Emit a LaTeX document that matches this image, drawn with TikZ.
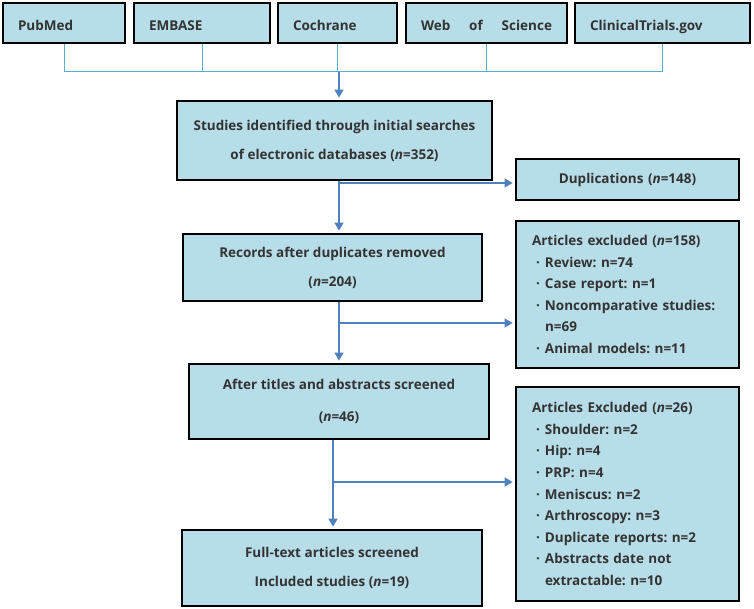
\documentclass[tikz,border=0pt]{standalone}
\usepackage{fontspec}
\setmainfont{Open Sans}
\usetikzlibrary{arrows.meta}
\definecolor{boxblue}{HTML}{B7DDE8}
\definecolor{linkblue}{HTML}{5AAFCB}
\definecolor{flowblue}{HTML}{4F81BD}
\definecolor{txtgray}{HTML}{333333}
\newcommand{\itm}{\makebox[13pt][l]{\hspace{4pt}\textperiodcentered}}
\newcommand{\cnt}{\hspace*{13pt}}
\frenchspacing
\begin{document}
\begin{tikzpicture}[x=1pt,y=-1pt,
    every node/.style={text=txtgray,font=\bfseries\fontsize{13.5}{29}\selectfont},
    db/.style={draw,line width=2.8pt,fill=boxblue,minimum height=40pt,inner xsep=15pt,text height=16pt,text depth=0pt,align=left},
    stage/.style={draw,line width=2.8pt,fill=boxblue,align=center},
    note/.style={draw,line width=2.8pt,fill=boxblue,text width=191pt,inner xsep=16pt,font=\bfseries\fontsize{13.5}{21.6}\selectfont},
    link/.style={linkblue,line width=1pt},
    flow/.style={flowblue,line width=1.6pt,shorten >=2pt,-{Triangle[width=9pt,length=8pt]}}]
    \useasboundingbox (0,0) rectangle (754,609);
    \node[db,text width=92pt] (pubmed) at (64,23) {PubMed};
    \node[db,text width=106pt] (embase) at (202,23) {EMBASE};
    \node[db,text width=89pt] (cochrane) at (337.5,23) {Cochrane};
    \node[db,text width=131pt] (wos) at (486.5,23) {Web\hfill of\hfill Science};
    \node[db,text width=145pt] (trials) at (662.5,23) {ClinicalTrials.gov};
    \node[stage,minimum width=315pt,minimum height=79pt] (ident) at (334.5,140.5)
      {Studies identified through initial searches\\of electronic databases (\textit{n}=352)};
    \node[stage,minimum width=299pt,minimum height=67pt] (dedup) at (332.5,267.5)
      {Records after duplicates removed\\(\textit{n}=204)};
    \node[stage,minimum width=300pt,minimum height=75pt,font=\bfseries\fontsize{13.5}{32}\selectfont] (screen) at (339,401.5)
      {After titles and abstracts screened\\(\textit{n}=46)};
    \node[stage,minimum width=300pt,minimum height=76pt] (included) at (332,568)
      {Full-text articles screened\\Included studies (\textit{n}=19)};
    \node[note,align=center,minimum height=41pt] (dupl) at (627.5,179.5)
      {Duplications (\textit{n}=148)};
    \node[note,align=left,minimum height=147pt] (excl1) at (627.5,294.5)
      {Articles excluded (\textit{n}=158)\\
       \itm Review: n=74\\
       \itm Case report: n=1\\
       \itm Noncomparative studies:\\
       \cnt n=69\\
       \itm Animal models: n=11};
    \node[note,align=left,minimum height=214pt] (excl2) at (627.5,494)
      {Articles Excluded (\textit{n}=26)\\
       \itm Shoulder: n=2\\
       \itm Hip: n=4\\
       \itm PRP: n=4\\
       \itm Meniscus: n=2\\
       \itm Arthroscopy: n=3\\
       \itm Duplicate reports: n=2\\
       \itm Abstracts date not\\
       \cnt extractable: n=10};
    \coordinate (join) at (339,72);
    \coordinate (b1) at (339,183);
    \coordinate (b2) at (339,323);
    \coordinate (b3) at (333,482);
    \foreach \db in {pubmed,embase,cochrane,wos,trials}
      \draw[link] (\db.south) |- (join);
    \draw[flow] (join) -- (join |- ident.north);
    \draw[flow] (b1 |- ident.south) -- (b1 |- dedup.north);
    \draw[flow] (b1) -- (b1 -| dupl.west);
    \draw[flow] (b2 |- dedup.south) -- (b2 |- screen.north);
    \draw[flow] (b2) -- (b2 -| excl1.west);
    \draw[flow] (b3 |- screen.south) -- (b3 |- included.north);
    \draw[flow] (b3) -- (b3 -| excl2.west);
\end{tikzpicture}
\end{document}
